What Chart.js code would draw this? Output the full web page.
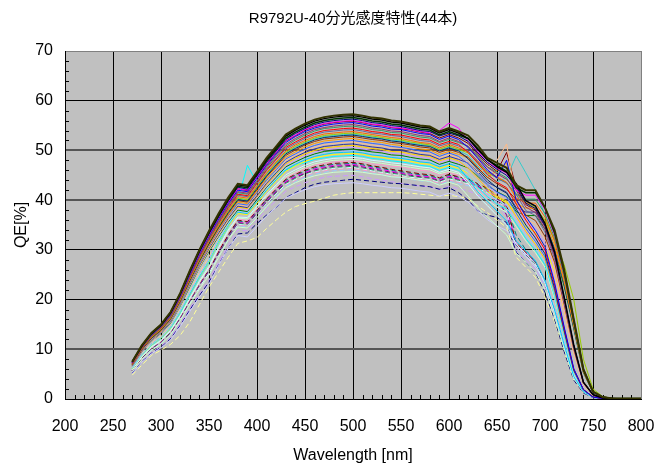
<!DOCTYPE html>
<html>
<head>
<meta charset="utf-8">
<script src="https://cdn.jsdelivr.net/npm/chart.js@4.4.1/dist/chart.umd.min.js"></script>
<style>
  html, body { margin: 0; padding: 0; background: #fff; }
  #wrap { position: relative; width: 656px; height: 465px; }
</style>
</head>
<body>
<div id="wrap"><canvas id="qe-chart"></canvas></div>
<script>
// wavelength axis, 270 - 800 nm every 10 nm
const wavelengths = [270,280,290,300,310,320,330,340,350,360,370,380,390,400,410,420,430,440,450,460,
  470,480,490,500,510,520,530,540,550,560,570,580,590,600,610,620,630,640,650,660,
  670,680,690,700,710,720,730,740,750,760,770,780,790,800];

// QE[%] of the 44 tubes
const tube01 = [7.5,10.8,13.3,15.0,17.5,21.3,25.8,30.0,33.8,37.3,40.5,43.3,43.0,45.7,48.5,50.8,53.2,54.4,55.4,56.2,56.7,57.0,57.2,57.3,57.0,56.6,56.4,56.0,55.8,55.4,55.0,54.8,53.8,54.5,53.8,53.0,51.0,48.5,47.5,46.5,43.0,42.0,42.0,38.5,34.0,26.0,16.0,6.0,1.5,0.4,0.1,0.1,0.1,0.1];
const tube02 = [7.5,10.7,13.2,14.9,17.4,21.2,25.7,29.9,33.6,37.1,40.3,43.1,42.8,45.5,48.2,50.6,52.9,54.1,55.1,55.9,56.4,56.7,56.9,57.0,56.7,56.3,56.1,55.7,55.5,55.1,54.7,54.5,53.5,54.2,53.5,52.4,50.2,48.2,46.7,45.6,43.3,39.9,38.8,35.3,29.6,20.5,10.8,3.4,0.9,0.2,0.1,0,0,0];
const tube03 = [7.4,10.6,13.1,14.8,17.3,21.1,25.5,29.7,33.4,36.8,40.0,42.8,42.5,45.2,47.9,50.2,52.5,53.7,54.7,55.5,56.0,56.3,56.5,56.6,56.3,55.9,55.7,55.3,55.1,54.7,54.3,54.1,53.1,53.8,53.1,52.4,50.4,48.1,47.0,45.8,42.5,41.5,41.5,38.5,33.4,25.5,15.8,5.9,1.5,0.4,0.1,0.1,0.1,0.1];
const tube04 = [7.4,10.6,13.1,14.8,17.2,20.9,25.3,29.5,33.2,36.7,39.8,42.6,42.2,44.9,47.6,49.9,52.2,53.4,54.4,55.2,55.7,56.0,56.2,56.3,56.0,55.6,55.4,55.0,54.8,54.4,54.0,53.8,52.9,53.5,52.9,51.8,49.5,47.6,46.2,45.0,42.8,39.4,38.3,34.9,29.3,20.3,10.7,3.4,0.8,0.2,0.1,0,0,0];
const tube05 = [7.3,10.5,13.0,14.7,17.1,20.8,25.2,29.3,33.0,36.5,39.6,42.3,42.0,44.7,47.4,49.7,52.0,53.1,54.2,54.9,55.4,55.7,55.9,56.0,55.7,55.3,55.1,54.7,54.5,54.2,53.8,53.5,54.0,55.5,54.5,51.8,49.8,47.6,46.5,45.4,42.0,41.0,41.0,38.1,33.0,25.2,15.7,5.9,1.5,0.4,0.1,0.1,0.1,0.1];
const tube06 = [7.3,10.5,12.9,14.6,17.0,20.7,25.0,29.1,32.8,36.2,39.3,42.0,41.7,44.4,47.0,49.3,51.6,52.8,53.8,54.5,55.0,55.3,55.5,55.6,55.3,54.9,54.7,54.3,54.2,53.8,53.4,53.2,52.2,52.9,52.2,50.6,48.4,46.1,44.5,48.0,40.0,36.7,33.9,30.6,23.4,14.5,6.1,1.9,0.4,0.1,0,0,0,0];
const tube07 = [7.2,10.4,12.8,14.5,16.8,20.5,24.8,28.9,32.6,35.9,39.0,41.7,41.4,44.0,46.7,49.0,51.2,52.4,53.4,54.2,54.6,54.9,55.1,55.2,54.9,54.5,54.3,53.9,53.8,53.4,53.0,52.8,51.8,52.5,51.8,50.8,48.6,46.6,45.3,44.2,42.0,38.6,37.5,34.2,28.7,19.9,10.5,3.3,0.8,0.2,0.1,0,0,0];
const tube08 = [7.2,10.3,12.7,14.4,16.7,20.4,24.7,28.8,32.4,35.7,38.8,41.5,41.2,43.8,46.4,48.7,50.9,52.1,53.1,53.9,54.4,54.6,54.8,54.9,54.6,54.2,54.0,53.6,53.5,53.1,52.7,52.5,51.6,52.2,51.6,50.8,48.9,46.7,45.6,44.5,41.2,40.2,40.2,37.3,32.4,24.7,15.4,5.8,1.4,0.4,0.1,0.1,0.1,0.1];
const tube09 = [7.1,10.2,12.6,14.3,16.6,20.3,24.5,28.6,32.2,35.5,38.5,41.2,40.9,43.5,46.1,48.3,50.6,51.7,52.7,53.5,54.0,54.2,54.4,54.5,54.2,53.8,53.6,53.2,53.1,52.7,52.3,52.1,51.2,51.8,51.2,49.6,47.4,45.2,43.6,42.5,39.2,36.0,33.2,30.0,22.9,14.2,6.0,1.9,0.4,0.1,0,0,0,0];
const tube10 = [7.1,10.2,12.6,14.2,16.5,20.2,24.4,28.4,32.0,35.3,38.3,41.0,40.7,43.3,45.9,48.1,50.3,51.4,52.4,53.2,53.7,53.9,54.1,54.2,53.9,53.5,53.3,53.0,52.8,52.4,52.0,51.8,50.9,51.5,50.9,49.9,47.7,45.8,44.4,43.4,41.2,37.9,36.9,33.6,28.2,19.5,10.3,3.3,0.8,0.2,0.1,0,0,0];
const tube11 = [7.0,10.1,12.5,14.1,16.4,20.0,24.2,28.2,31.7,35.0,38.0,40.7,40.4,42.9,45.5,47.7,49.9,51.1,52.0,52.8,53.3,53.5,53.7,53.8,53.5,53.2,52.9,52.6,52.4,52.0,51.6,51.4,50.5,51.2,50.5,49.8,47.9,45.7,44.7,43.6,40.4,39.4,39.4,36.6,31.7,24.2,15.1,5.6,1.4,0.4,0.1,0.1,0.1,0.1];
const tube12 = [7.0,10.1,12.4,14.0,16.3,19.9,24.1,28.0,31.6,34.8,37.8,40.4,40.1,42.7,45.3,47.5,49.6,50.8,51.7,52.5,53.0,53.2,53.4,53.5,53.2,52.9,52.6,52.3,52.1,51.7,51.4,51.1,50.2,50.9,50.2,49.5,47.5,45.5,44.5,43.5,41.0,39.5,38.5,36.0,32.0,27.0,20.0,8.0,2.0,0.5,0.1,0.1,0.1,0.1];
const tube13 = [7.0,10.0,12.3,13.9,16.2,19.8,23.9,27.8,31.3,34.6,37.5,40.1,39.8,42.4,44.9,47.1,49.3,50.4,51.3,52.1,52.6,52.8,53.0,53.1,52.8,52.5,52.3,51.9,51.7,51.3,51.0,50.8,49.9,50.5,49.9,48.3,46.2,44.1,42.5,41.4,38.2,35.0,32.4,29.2,22.3,13.8,5.8,1.9,0.4,0.1,0,0,0,0];
const tube14 = [6.9,9.9,12.2,13.8,16.1,19.6,23.8,27.7,31.2,34.4,37.3,39.9,39.6,42.1,44.7,46.8,49.0,50.1,51.1,51.8,52.3,52.5,52.7,52.8,52.5,52.2,52.0,51.6,51.4,51.1,50.7,50.5,49.6,50.2,49.6,48.6,46.5,44.6,43.3,42.2,40.1,37.0,35.9,32.7,27.5,19.0,10.0,3.2,0.8,0.2,0.1,0,0,0];
const tube15 = [6.9,9.9,12.2,13.7,16.0,19.5,23.6,27.5,30.9,34.1,37.0,39.6,39.3,41.8,44.3,46.5,48.6,49.7,50.7,51.4,51.9,52.1,52.3,52.4,52.1,51.8,51.6,51.2,51.0,50.7,50.3,50.1,49.2,49.8,49.2,48.5,46.6,44.5,46.0,47.5,39.3,38.4,38.4,35.6,30.9,23.6,14.7,5.5,1.4,0.4,0.1,0.1,0.1,0.1];
const tube16 = [6.8,9.8,12.1,13.6,15.9,19.3,23.4,27.2,30.7,33.9,36.8,39.3,39.0,41.5,44.0,46.1,48.3,49.3,50.3,51.0,51.5,51.7,51.9,52.0,51.7,51.4,51.2,50.8,50.6,50.3,49.9,49.7,48.8,49.5,48.8,47.3,45.2,43.2,41.6,40.6,37.4,34.3,31.7,28.6,21.8,13.5,5.7,1.8,0.4,0.1,0,0,0,0];
const tube17 = [6.8,9.7,12.0,13.5,15.8,19.2,23.3,27.1,30.5,33.7,36.6,39.1,38.8,41.3,43.7,45.9,48.0,49.1,50.0,50.7,51.2,51.4,51.6,51.7,51.4,51.1,50.9,50.5,50.4,50.0,49.6,49.4,48.5,49.2,48.5,47.6,45.5,46.5,48.0,51.3,40.0,36.2,35.2,32.1,26.9,18.6,9.8,3.1,0.8,0.2,0.1,0,0,0];
const tube18 = [6.7,9.6,11.9,13.4,15.6,19.1,23.1,26.9,30.3,33.4,36.3,38.8,38.5,40.9,43.4,45.5,47.6,48.7,49.6,50.3,50.8,51.0,51.2,51.3,51.0,50.7,50.5,50.1,50.0,49.6,49.2,49.0,48.2,48.8,48.2,47.5,45.7,43.6,42.6,41.6,38.5,37.6,37.6,34.9,30.3,23.1,14.4,5.4,1.3,0.4,0.1,0.1,0.1,0.1];
const tube19 = [6.7,9.6,11.8,13.4,15.6,19.0,23.0,26.7,30.1,33.2,36.1,38.6,38.3,40.7,43.1,45.2,47.3,48.4,49.3,50.0,50.5,50.7,50.9,51.0,50.7,50.4,50.2,49.8,49.7,49.3,49.0,48.8,47.9,48.5,47.9,46.4,44.4,42.3,40.8,39.8,36.7,33.7,31.1,28.1,21.4,13.3,5.6,1.8,0.4,0.1,0,0,0,0];
const tube20 = [6.6,9.5,11.7,13.3,15.4,18.8,22.8,26.5,29.9,32.9,35.8,38.3,38.0,40.4,42.8,44.9,47.0,48.0,48.9,49.6,50.1,50.3,50.5,50.6,50.3,50.0,49.8,49.4,49.3,48.9,48.6,48.4,47.5,48.1,47.5,46.6,44.5,42.8,41.5,40.5,38.5,35.4,34.4,31.4,26.3,18.2,9.6,3.0,0.8,0.2,0.1,0,0,0];
const tube21 = [6.6,9.5,11.7,13.2,15.3,18.7,22.6,26.4,29.7,32.7,35.6,38.0,37.7,40.1,42.6,44.6,46.7,47.7,48.6,49.3,49.8,50.0,50.2,50.3,50.0,49.7,49.5,49.1,49.0,48.6,48.3,48.1,47.2,47.8,47.2,46.5,44.8,42.8,41.7,40.7,37.7,36.9,36.9,34.2,29.7,22.6,14.1,5.3,1.3,0.4,0.1,0.1,0.1,0.1];
const tube22 = [6.2,8.9,11.0,12.4,14.5,17.7,21.4,24.9,28.0,32.0,35.2,37.8,37.5,39.9,42.3,44.4,46.4,47.5,48.4,49.1,49.5,49.8,49.9,50.0,49.8,49.4,49.2,48.9,48.7,48.4,48.0,47.8,47.0,47.6,47.0,45.5,43.5,41.5,40.0,39.0,36.0,33.0,30.5,27.5,21.0,13.0,5.5,1.8,0.4,0.1,0,0,0,0];
const tube23 = [6.2,8.9,11.0,12.4,14.4,17.6,21.2,24.7,27.9,31.8,35.0,37.6,37.3,39.7,42.0,44.1,46.1,47.2,48.1,48.8,49.2,49.5,49.6,49.7,49.5,49.1,48.9,48.6,48.4,48.1,47.7,47.5,46.7,47.3,46.7,44.2,41.7,39.8,37.8,35.8,31.8,29.8,27.8,23.9,17.9,10.9,4.5,1.5,0.3,0.1,0,0,0,0];
const tube24 = [6.1,8.8,10.9,12.3,14.3,17.5,21.1,24.6,27.7,31.6,34.8,37.3,37.1,39.4,41.8,43.8,45.8,46.9,47.8,48.5,48.9,49.2,49.3,49.4,49.2,48.8,48.6,48.3,48.1,47.8,47.4,47.2,46.4,47.0,46.4,45.4,43.5,41.7,40.5,39.5,37.5,34.6,33.6,30.6,25.7,17.8,9.4,3.0,0.7,0.2,0,0,0,0];
const tube25 = [6.1,8.8,10.8,12.2,14.2,17.3,20.9,24.4,27.5,31.4,34.6,40.0,47.0,43.5,44.0,45.5,46.0,47.0,47.5,48.2,48.5,48.8,48.9,49.0,48.8,48.4,48.2,47.9,47.7,47.4,47.0,46.8,46.0,46.6,46.0,44.6,42.6,40.7,39.2,38.2,35.3,32.3,29.9,27.0,20.6,12.7,5.4,1.7,0.4,0.1,0,0,0,0];
const tube26 = [5.9,8.5,10.5,11.8,13.8,16.8,20.3,23.7,26.7,30.5,34.0,36.6,36.5,38.8,41.1,43.1,45.1,46.1,47.0,47.7,48.1,48.4,48.5,48.6,48.4,48.0,47.8,47.5,47.3,47.0,46.7,46.5,45.6,46.2,45.6,43.3,40.8,38.9,36.9,35.0,31.1,29.2,27.2,23.3,17.5,10.7,4.4,1.5,0.3,0.1,0,0,0,0];
const tube27 = [5.9,8.4,10.4,11.7,13.7,16.7,20.2,23.5,26.4,30.3,33.7,36.4,36.2,38.5,40.8,42.8,44.7,45.7,46.6,47.3,47.7,48.0,48.1,48.2,48.0,47.6,47.4,47.1,46.9,46.6,46.3,46.1,45.3,45.8,45.3,43.9,41.9,40.0,38.6,37.6,34.7,31.8,29.4,26.5,20.2,12.5,5.3,1.7,0.4,0.1,0,0,0,0];
const tube28 = [5.8,8.4,10.3,11.7,13.6,16.6,20.0,23.3,26.3,30.0,33.5,36.2,35.9,38.2,40.5,42.5,44.5,45.5,46.3,47.0,47.4,47.7,47.8,47.9,47.7,47.3,47.1,46.8,46.7,46.3,46.0,45.8,45.0,45.6,45.0,44.1,42.2,40.5,39.3,38.3,36.4,33.5,32.6,29.7,24.9,17.2,9.1,2.9,0.7,0.2,0,0,0,0];
const tube29 = [5.5,7.9,9.8,11.0,12.9,15.7,19.0,22.1,24.9,28.5,32.0,34.6,34.4,36.5,38.7,40.6,42.5,43.5,44.3,44.9,45.3,45.6,45.7,45.8,45.6,45.3,45.1,44.7,44.6,44.3,44.0,43.8,43.0,43.6,43.0,40.8,38.5,36.6,34.8,33.0,29.3,27.5,25.6,22.0,16.5,10.1,4.1,1.4,0.3,0.1,0,0,0,0];
const tube30 = [5.1,7.4,9.1,10.3,11.9,14.6,17.6,20.5,23.1,26.9,30.3,32.9,32.6,34.7,36.8,38.6,40.4,41.3,42.1,42.7,43.1,43.3,43.4,43.5,43.3,43.0,42.8,42.5,42.4,42.1,41.8,41.6,40.8,41.4,40.8,39.6,37.8,36.1,34.8,33.9,31.3,28.7,26.5,23.9,18.3,11.3,4.8,1.5,0.3,0.1,0,0,0,0];
const tube31 = [7.3,10.5,13.0,14.6,17.0,20.8,25.2,29.3,33.0,36.4,39.5,42.3,41.9,44.6,47.3,49.6,51.9,53.0,54.1,54.8,55.3,55.6,55.8,55.9,55.6,55.2,55.0,54.6,54.4,54.1,53.7,53.4,52.5,53.2,52.5,51.4,49.2,47.2,45.8,49.6,42.5,39.1,38.0,34.7,29.1,20.1,10.6,3.4,0.8,0.2,0.1,0,0,0];
const tube32 = [7.0,10.0,12.4,14.0,16.3,19.8,24.0,27.9,31.4,34.7,37.7,40.3,40.0,42.5,45.1,47.3,49.5,50.6,51.5,52.3,52.8,53.0,53.2,53.3,53.0,52.7,52.4,52.1,51.9,51.5,51.2,51.0,50.0,50.7,50.0,49.0,46.9,45.0,43.7,44.5,48.9,45.5,42.0,37.0,30.0,20.0,10.0,3.0,0.8,0.2,0.1,0,0,0];
const tube33 = [6.3,9.1,11.2,12.7,14.8,18.0,21.8,25.4,28.6,32.6,35.8,38.6,38.3,40.7,43.1,45.2,47.3,48.4,49.3,50.0,50.5,50.7,50.9,51.0,50.7,50.4,50.2,49.8,49.7,49.3,49.0,48.8,47.9,48.5,47.9,46.4,44.4,42.3,40.8,39.8,36.7,33.7,31.1,28.1,21.4,13.3,5.6,1.8,0.4,0.1,0,0,0,0];
const tube34 = [5.8,8.3,10.3,11.6,13.5,16.5,19.9,23.2,26.1,29.7,33.0,36.0,35.7,38.0,40.3,42.2,44.2,45.2,46.0,46.7,47.1,47.4,47.5,47.6,47.3,46.9,46.6,46.2,45.9,45.6,45.3,45.1,44.5,45.2,44.7,44.3,43.3,42.4,40.9,39.0,31.4,29.5,27.6,23.8,18.1,10.9,4.3,1.4,0.3,0.1,0,0,0,0];
const tube35 = [5.8,8.3,10.2,11.6,13.4,16.4,19.8,23.1,26.0,29.6,32.8,35.8,35.6,37.8,40.1,42.0,44.0,45.0,45.8,46.5,46.9,47.2,47.3,47.4,47.1,46.7,46.4,46.0,45.7,45.4,45.1,44.9,44.3,45.0,44.6,44.1,43.1,42.2,40.8,38.9,33.0,30.0,27.5,23.7,18.0,10.9,4.3,1.4,0.3,0.1,0,0,0,0];
const tube36 = [5.8,8.3,10.2,11.5,13.4,16.3,19.8,23.0,25.9,29.5,32.7,35.7,35.4,37.7,39.9,41.9,43.8,44.8,45.6,46.3,46.7,47.0,47.1,47.2,46.9,46.5,46.2,45.8,45.5,45.2,44.9,44.7,44.1,44.8,44.4,43.9,43.0,42.0,40.6,38.7,31.2,29.3,27.4,23.6,17.9,10.9,4.2,1.4,0.3,0.1,0,0,0,0];
const tube37 = [5.7,8.2,10.1,11.5,13.3,16.3,19.7,22.9,25.8,29.4,32.6,35.5,35.3,37.5,39.8,41.7,43.6,44.6,45.4,46.1,46.5,46.8,46.9,47.0,46.7,46.3,46.0,45.6,45.4,45.0,44.7,44.6,43.9,44.7,44.2,43.7,42.8,41.8,40.4,37.0,31.0,29.1,27.3,23.5,17.9,10.8,4.2,1.4,0.3,0.1,0,0,0,0];
const tube38 = [5.7,8.2,10.1,11.4,13.3,16.2,19.6,22.8,25.7,29.2,32.4,35.4,35.1,37.3,39.6,41.5,43.4,44.4,45.3,45.9,46.3,46.6,46.7,46.8,46.5,46.1,45.8,45.4,45.2,44.8,44.6,44.4,43.8,44.5,44.0,43.5,42.6,41.7,40.2,38.4,30.9,29.0,27.1,23.4,17.8,10.8,4.2,1.4,0.3,0.1,0,0,0,0];
const tube39 = [5.6,8.1,9.9,11.2,13.1,15.9,19.3,22.5,25.3,29.0,32.3,35.2,35.0,37.2,39.4,41.3,43.2,44.2,45.1,45.7,46.1,46.4,46.5,46.6,46.3,45.9,45.6,45.2,45.0,44.6,44.4,44.2,43.6,44.3,43.8,43.3,42.4,41.5,40.1,38.2,30.8,28.9,27.0,23.3,17.7,10.7,4.2,1.4,0.3,0.1,0,0,0,0];
const tube40 = [5.6,8.0,9.9,11.2,13.0,15.9,19.2,22.4,25.2,28.8,32.1,35.1,34.8,37.0,39.3,41.2,43.1,44.0,44.9,45.5,45.9,46.2,46.3,46.4,46.1,45.7,45.4,45.0,44.8,44.5,44.2,44.0,43.4,44.1,43.6,43.2,42.2,41.3,39.9,38.0,30.6,28.8,26.9,23.2,17.6,10.7,4.2,1.4,0.3,0.1,0,0,0,0];
const tube41 = [5.6,8.0,9.8,11.1,12.9,15.8,19.1,22.2,25.0,28.6,31.9,34.9,34.6,36.8,39.0,40.9,42.8,43.7,44.6,45.2,45.6,45.9,46.0,46.1,45.8,45.4,45.1,44.7,44.5,44.2,43.9,43.7,43.1,43.8,43.3,42.9,42.0,41.0,39.6,37.8,30.4,28.6,26.7,23.1,17.5,10.6,4.1,1.4,0.3,0.1,0,0,0,0];
const tube42 = [5.2,7.5,9.2,10.4,12.1,14.8,17.9,20.8,23.5,27.0,30.3,33.2,33.4,35.3,37.0,38.5,40.5,41.5,42.5,43.2,43.6,43.8,44.0,44.2,44.0,43.8,43.6,43.4,43.3,43.1,42.9,42.7,42.2,42.5,41.5,40.0,37.8,37.0,36.5,35.5,29.5,27.5,25.5,21.5,16.0,9.5,3.8,1.2,0.3,0.1,0,0,0,0];
const tube43 = [4.8,6.8,8.8,9.8,11.0,12.8,15.5,19.0,22.5,25.5,28.5,31.3,31.8,32.5,34.3,36.0,37.6,38.7,39.3,39.8,40.4,41.0,41.3,41.5,41.5,41.5,41.5,41.5,41.5,41.4,41.2,41.0,40.8,41.0,40.7,40.3,38.8,37.5,36.0,34.5,28.5,26.5,24.5,20.5,15.5,9.5,3.8,1.2,0.3,0.1,0,0,0,0];
const tube44 = [5.3,7.6,9.4,10.6,12.4,15.1,18.2,21.2,23.9,27.5,30.9,34.0,33.8,35.9,38.1,39.9,41.8,42.7,43.5,44.1,44.6,44.8,44.9,45.0,44.7,44.3,44.0,43.7,43.4,43.1,42.8,42.7,42.1,42.8,42.3,41.9,41.0,40.1,38.7,36.9,29.7,27.9,26.1,22.5,17.1,10.4,4.1,1.4,0.3,0.1,0,0,0,0];

const tubes = [tube01,tube02,tube03,tube04,tube05,tube06,tube07,tube08,tube09,tube10,tube11,
  tube12,tube13,tube14,tube15,tube16,tube17,tube18,tube19,tube20,tube21,tube22,tube23,
  tube24,tube25,tube26,tube27,tube28,tube29,tube30,tube31,tube32,tube33,tube34,tube35,
  tube36,tube37,tube38,tube39,tube40,tube41,tube42,tube43,tube44];

// line look of each tube (excel-like palette), last 12 are dashed
const lineColors = ['#333300','#000000','#003300','#000080','#FF00FF','#0000FF','#993366','#339966',
  '#FF0000','#666699','#FF6600','#99CC00','#003366','#993300','#FF9900','#3366FF','#FFBB88',
  '#333399','#FFCC00','#CC99FF','#008000','#99CCFF','#00CCFF','#FFFF00','#00FFFF','#CCFFFF',
  '#CCFFCC','#FF99CC','#CCFFCC','#CCCCFF','#800000','#33CCCC','#FFCC99','#800000','#008080',
  '#FF00FF','#800080','#339966','#CCFFFF','#FF99CC','#99CCFF','#000080','#FFFF99','#CC99FF'];
const dashedFrom = 32;

const xTicks = [200,250,300,350,400,450,500,550,600,650,700,750,800];
const yTicks = [0,10,20,30,40,50,60,70];

const FONT = '"Liberation Sans", Arial, "Noto Sans CJK JP", sans-serif';

const plotBackground = {
  id: 'plotBackground',
  beforeDraw(chart) {
    const {ctx, chartArea: a} = chart;
    ctx.save();
    ctx.fillStyle = '#c0c0c0';
    ctx.fillRect(a.left, a.top, a.width, a.height);
    ctx.restore();
  }
};

// small inner ticks: every 10 nm and every 2 %
const minorTicks = {
  id: 'minorTicks',
  beforeDatasetsDraw(chart) {
    const {ctx, chartArea: a, scales: {x, y}} = chart;
    ctx.save();
    ctx.strokeStyle = '#000';
    ctx.lineWidth = 1;
    ctx.beginPath();
    for (let v = 210; v < 800; v += 10) {
      if (v % 50 === 0) continue;
      const px = Math.round(x.getPixelForValue(v)) + 0.5;
      ctx.moveTo(px, a.bottom);
      ctx.lineTo(px, a.bottom - 4);
    }
    for (let v = 2; v < 70; v += 2) {
      if (v % 10 === 0) continue;
      const py = Math.round(y.getPixelForValue(v)) + 0.5;
      ctx.moveTo(a.left, py);
      ctx.lineTo(a.left + 4, py);
    }
    ctx.stroke();
    ctx.restore();
  }
};

const datasets = tubes.map((vals, i) => ({
  label: 'No.' + (i + 1),
  data: vals.map((v, k) => ({x: wavelengths[k], y: v})),
  borderColor: lineColors[i],
  borderWidth: i === 0 ? 2 : (i < 3 ? 1.5 : 1),
  borderDash: i >= dashedFrom ? [5, 3] : [],
  pointRadius: 0,
  tension: 0,
  fill: false
}));

new Chart(document.getElementById('qe-chart'), {
  type: 'line',
  data: { datasets },
  options: {
    responsive: true,
    maintainAspectRatio: false,
    animation: false,
    devicePixelRatio: 1,
    layout: { padding: { left: 0, right: 15, top: 0, bottom: 0 } },
    plugins: {
      legend: { display: false },
      tooltip: { enabled: false },
      title: {
        display: true,
        fullSize: false,
        text: 'R9792U-40分光感度特性(44本)',
        color: '#000',
        font: { family: FONT, size: 15, weight: 'normal' },
        padding: { top: 10, bottom: 23 }
      }
    },
    scales: {
      x: {
        type: 'linear',
        min: 200,
        max: 800,
        afterBuildTicks: s => { s.ticks = xTicks.map(v => ({value: v})); },
        afterFit: s => { s.height = 66; s.paddingLeft = 0; s.paddingRight = 0; },
        ticks: { color: '#000', padding: 18, maxRotation: 0, font: { family: FONT, size: 16 } },
        grid: {
          drawTicks: false,
          color: c => (c.tick && c.tick.value === 800) ? '#808080' : '#000',
          lineWidth: 1
        },
        border: { color: '#000' },
        title: {
          display: true,
          text: 'Wavelength [nm]',
          color: '#000',
          font: { family: FONT, size: 16 },
          padding: { top: 0, bottom: 0 }
        }
      },
      y: {
        type: 'linear',
        min: 0,
        max: 70,
        afterBuildTicks: s => { s.ticks = yTicks.map(v => ({value: v})); },
        afterFit: s => { s.width = 65; },
        ticks: { color: '#000', padding: 12, font: { family: FONT, size: 16 } },
        grid: {
          drawTicks: false,
          color: c => {
            const v = c.tick ? c.tick.value : null;
            if (v === 70) return '#808080';
            if (v === 10 || v === 40 || v === 50) return '#555555';
            return '#000';
          },
          lineWidth: c => {
            const v = c.tick ? c.tick.value : null;
            return (v === 10 || v === 40 || v === 50) ? 2 : 1;
          }
        },
        border: { color: '#000' },
        title: {
          display: true,
          text: 'QE[%]',
          color: '#000',
          font: { family: FONT, size: 16 },
          padding: { top: 12, bottom: 0 }
        }
      }
    }
  },
  plugins: [plotBackground, minorTicks]
});
</script>
</body>
</html>
